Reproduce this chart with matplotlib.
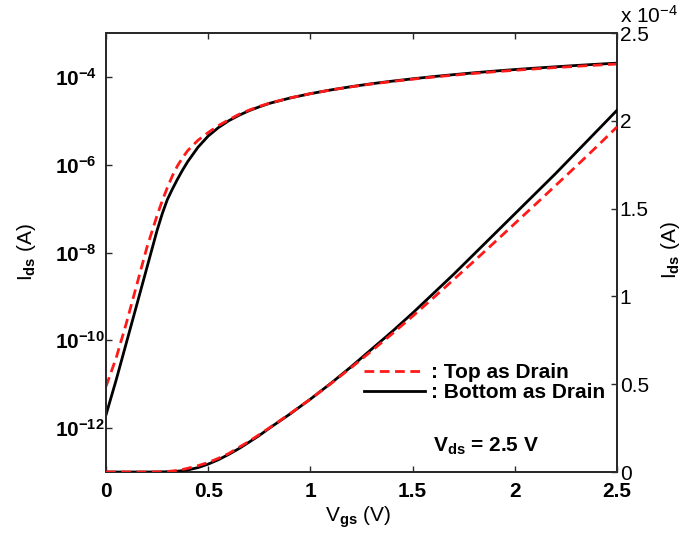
import matplotlib
matplotlib.use("Agg")
import matplotlib.pyplot as plt
from matplotlib.ticker import FixedLocator, NullLocator, FixedFormatter

plt.rcParams['font.family'] = ['Liberation Sans', 'DejaVu Sans']
plt.rcParams['mathtext.fontset'] = 'custom'
plt.rcParams['mathtext.rm'] = 'Liberation Sans'
plt.rcParams['mathtext.it'] = 'Liberation Sans'
plt.rcParams['mathtext.bf'] = 'Liberation Sans:bold'

# ---- data ----
vgs = [0.00, 0.05, 0.10, 0.15, 0.20, 0.25, 0.275, 0.30, 0.325, 0.35, 0.375, 0.40,
       0.45, 0.50, 0.55, 0.60, 0.65, 0.70, 0.75, 0.80, 0.90, 1.00, 1.10, 1.20,
       1.30, 1.40, 1.50, 1.60, 1.70, 1.80, 1.90, 2.00, 2.10, 2.20, 2.30, 2.40, 2.50]

ids_bottom = [2.0e-12, 1.26e-11, 8.9e-11, 6.3e-10, 4.5e-9, 3.2e-8, 7.6e-8, 1.6e-7,
              2.8e-7, 4.7e-7, 7.6e-7, 1.18e-6, 2.5e-6, 4.5e-6, 7.0e-6, 1.0e-5,
              1.33e-5, 1.7e-5, 2.08e-5, 2.5e-5, 3.3e-5, 4.15e-5, 5.05e-5, 6.0e-5,
              7.0e-5, 8.0e-5, 9.05e-5, 1.015e-4, 1.125e-4, 1.24e-4, 1.355e-4, 1.47e-4,
              1.585e-4, 1.70e-4, 1.82e-4, 1.94e-4, 2.06e-4]

ids_top = [8.9e-12, 4.0e-11, 2.5e-10, 1.8e-9, 1.3e-8, 7.0e-8, 1.5e-7, 3.0e-7,
           5.6e-7, 9.5e-7, 1.45e-6, 2.1e-6, 3.6e-6, 5.4e-6, 7.8e-6, 1.05e-5,
           1.4e-5, 1.75e-5, 2.13e-5, 2.52e-5, 3.32e-5, 4.15e-5, 5.03e-5, 5.95e-5,
           6.9e-5, 7.87e-5, 8.87e-5, 9.9e-5, 1.095e-4, 1.20e-4, 1.307e-4, 1.415e-4,
           1.523e-4, 1.632e-4, 1.741e-4, 1.852e-4, 1.965e-4]

x_ticks = [0, 0.5, 1, 1.5, 2, 2.5]
x_ticklabels = ['0', '0.5', '1', '1.5', '2', '2.5']
log_ticks = [1e-12, 1e-10, 1e-8, 1e-6, 1e-4]
log_ticklabels = [r'$\mathbf{10^{-12}}$', r'$\mathbf{10^{-10}}$', r'$\mathbf{10^{-8}}$',
                  r'$\mathbf{10^{-6}}$', r'$\mathbf{10^{-4}}$']
lin_ticks = [0, 0.5e-4, 1.0e-4, 1.5e-4, 2.0e-4, 2.5e-4]
lin_ticklabels = ['0', '0.5', '1', '1.5', '2', '2.5']

legend_labels = [': Top as Drain', ': Bottom as Drain']

# ---- figure ----
W, H = 686, 539
fig = plt.figure(figsize=(W / 100, H / 100), dpi=100)
ax = fig.add_axes([106 / W, (H - 472) / H, (617 - 106) / W, (472 - 33) / H])
ax2 = ax.twinx()

red = '#ff1a1a'
spine_c = '#2a2a2a'
dash = (0, (3.5, 2))

# log curves
ax.plot(vgs, ids_bottom, color='black', lw=2.0, zorder=3)
ax.plot(vgs, ids_top, color=red, lw=2.0, linestyle=dash, zorder=4)
ax.set_yscale('log')
ax.set_ylim(1e-13, 1e-3)
ax.set_xlim(0, 2.5)

# linear curves
lb, = ax2.plot(vgs, ids_bottom, color='black', lw=2.0, zorder=3)
lt, = ax2.plot(vgs, ids_top, color=red, lw=2.0, linestyle=dash, zorder=4)
ax2.set_ylim(0, 2.5e-4)

# ticks
ax.xaxis.set_major_locator(FixedLocator(x_ticks))
ax.xaxis.set_major_formatter(FixedFormatter(x_ticklabels))
ax.yaxis.set_major_locator(FixedLocator(log_ticks))
ax.yaxis.set_major_formatter(FixedFormatter(log_ticklabels))
ax.yaxis.set_minor_locator(NullLocator())
ax.xaxis.set_minor_locator(NullLocator())
ax.tick_params(axis='x', which='both', direction='in', top=True, bottom=True,
               length=4.5, width=1.0, color=spine_c, pad=7, labelsize=15)
ax.tick_params(axis='y', which='both', direction='in', left=True, right=False,
               length=4.5, width=1.0, color=spine_c, pad=37, labelsize=15)
for lab in ax.get_xticklabels():
    lab.set_fontweight('bold')
for lab in ax.get_yticklabels():
    lab.set_horizontalalignment('left')

ax2.yaxis.set_major_locator(FixedLocator(lin_ticks))
ax2.yaxis.set_major_formatter(FixedFormatter(lin_ticklabels))
ax2.yaxis.set_minor_locator(NullLocator())
ax2.tick_params(axis='y', direction='in', right=True, length=4.5, width=1.0,
                color=spine_c, pad=2, labelsize=15)

for a in (ax, ax2):
    for s in a.spines.values():
        s.set_color(spine_c)
        s.set_linewidth(1.4)

# labels
fig.text(358 / W, 1 - 522 / H, r'V$_{\mathbf{gs}}$ (V)', ha='center', va='baseline', fontsize=15)
fig.text(27 / W, 1 - 252 / H, r'I$_{\mathbf{ds}}$ (A)', ha='center', va='center',
         rotation=90, fontsize=15)
fig.text(671 / W, 1 - 250 / H, r'I$_{\mathbf{ds}}$ (A)', ha='center', va='center',
         rotation=90, fontsize=15)
fig.text(620 / W, 1 - 23 / H, r'x 10$^{-4}$', ha='left', va='baseline', fontsize=15)

# legend
leg = ax2.legend([lt, lb], legend_labels, loc='upper left',
                 bbox_to_anchor=(364 / W, 1 - 363 / H), bbox_transform=fig.transFigure,
                 frameon=False, prop={'weight': 'bold', 'size': 15},
                 handlelength=2.95, handletextpad=0.25, labelspacing=0.05,
                 borderpad=0, borderaxespad=0)

ax2.text(433 / W, 1 - 452 / H, r'V$_{\mathbf{ds}}$ = 2.5 V', transform=fig.transFigure,
         ha='left', va='baseline', fontsize=15, fontweight='bold')

fig.savefig('out.png', dpi=100)
